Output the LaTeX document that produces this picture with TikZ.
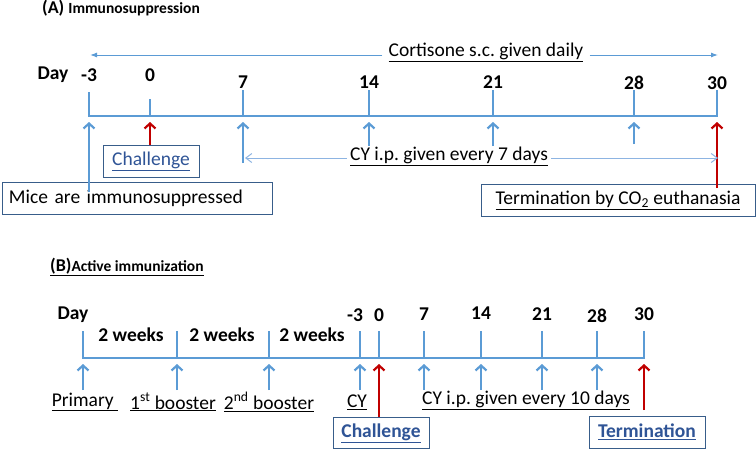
\documentclass[tikz,border=0pt]{standalone}
\usepackage{fontspec}
\setmainfont{Carlito}
\usetikzlibrary{arrows.meta}
\definecolor{axisblue}{HTML}{5B9BD5}
\definecolor{lineblue}{HTML}{8DB4E2}
\definecolor{darkred}{HTML}{C00000}
\definecolor{boxborder}{HTML}{385D8A}
\definecolor{chal}{HTML}{2F5496}
\frenchspacing
\begin{document}
\begin{tikzpicture}[x=1pt,y=-1pt,
  lbl/.style={font=\fontsize{19.5}{22}\selectfont\bfseries, inner sep=0pt},
  txt/.style={font=\fontsize{19.5}{22}\selectfont, inner sep=0pt},
  ax/.style={draw=axisblue, line width=2.2pt, line cap=rect},
  upb/.style={draw=axisblue, line width=2.2pt, -{Straight Barb[length=5pt,width=11pt]}},
  upr/.style={draw=darkred, line width=2.2pt, -{Straight Barb[length=5pt,width=11pt]}},
  thinb/.style={draw=axisblue, line width=1pt, -{Latex[length=7pt,width=5pt]}},
  openb/.style={draw=lineblue, line width=1pt, -{Straight Barb[length=6pt,width=9pt]}},
  boxs/.style={draw=boxborder, line width=1pt, fill=white, minimum height=32pt, inner sep=0pt,
    font=\fontsize{19.5}{22}\selectfont}
]
\useasboundingbox (0,0) rectangle (756,450);

% ---------------- Panel A ----------------
\node[anchor=west, inner sep=0pt] (titleA) at (42,8)
  {\bfseries\fontsize{18}{20}\selectfont (A) \fontsize{15.5}{17}\selectfont Immunosuppression};

\node[lbl] (dayA) at (53,75) {Day};
\foreach \x/\t/\ly/\tt [count=\i] in {89/-3/75/93, 150/0/75/100, 243/7/82/91, 369/14/82/91, 493/21/82/91, 634/28/83/91, 717/30/83/91} {
  \node[lbl] (dA\i) at (\x,\ly) {\t};
  \coordinate (tA\i) at (\x,\tt);
  \coordinate (bA\i) at (\x,116);
  \coordinate (hA\i) at (\x,122);
  \draw[ax] (tA\i) -- (bA\i);
}
\draw[ax] (bA1) -- (bA7);

% Cortisone
\node[txt, inner xsep=6pt] (cort) at (486,52) {\underline{Cortisone s.c. given daily}};
\coordinate (cL) at (90,55);
\coordinate (cR) at (718,55);
\draw[thinb] (cort.west |- cL) -- (cL);
\draw[thinb] (cort.east |- cR) -- (cR);

% boxes
\node[boxs, minimum width=270pt, text width=256pt, inner xsep=7pt, align=left] (mice) at (137,198)
  {Mice are immunosuppressed};
\node[boxs, minimum width=96pt] (chA) at (151,161) {\textcolor{chal}{\underline{Challenge}}};
\node[boxs, minimum width=274pt] (termA) at (618,200) {\underline{Termination by CO\textsubscript{2} euthanasia}};

% arrows below axis
\coordinate (sA1) at (89,192);
\coordinate (sA3) at (243,163);
\coordinate (sA4) at (369,146);
\coordinate (sA5) at (493,146);
\coordinate (sA6) at (634,144);
\coordinate (sA7) at (717,188);
\draw[upb] (sA1) -- (hA1);
\draw[upr] (chA.north -| hA2) -- (hA2);
\draw[upb] (sA3) -- (hA3);
\draw[upb] (sA4) -- (hA4);
\draw[upb] (sA5) -- (hA5);
\draw[upb] (sA6) -- (hA6);
\draw[upr] (sA7) -- (hA7);

% CY every 7 days
\node[txt, inner xsep=3pt] (cyA) at (449,156) {\underline{CY i.p. given every 7 days}};
\coordinate (cyAL) at (245,158);
\coordinate (cyAR) at (718,158);
\draw[openb] (cyA.west |- cyAL) -- (cyAL);
\draw[openb] (cyA.east |- cyAR) -- (cyAR);

% ---------------- Panel B ----------------
\node[anchor=west, inner sep=0pt] (titleB) at (50,267)
  {\bfseries\underline{{\fontsize{18}{20}\selectfont (B)}{\fontsize{15.5}{17}\selectfont Active immunization}}};

\node[lbl] (dayB) at (73,315) {Day};
\foreach \x [count=\i] in {83,177,269,360,379,424,481,542,597,644} {
  \coordinate (tB\i) at (\x,332);
  \coordinate (bB\i) at (\x,358);
  \coordinate (hB\i) at (\x,364);
  \coordinate (sB\i) at (\x,390);
  \draw[ax] (tB\i) -- (bB\i);
}
\draw[ax] (bB1) -- (bB10);

\node[lbl] (dB4) at (355,315) {-3};
\node[lbl] (dB5) at (379,315) {0};
\node[lbl] (dB6) at (424,314) {7};
\node[lbl] (dB7) at (481,313) {14};
\node[lbl] (dB8) at (542,314) {21};
\node[lbl] (dB9) at (597,316) {28};
\node[lbl] (dB10) at (644,314) {30};

\node[lbl] (w1) at (131,335) {2 weeks};
\node[lbl] (w2) at (222,335) {2 weeks};
\node[lbl] (w3) at (312,335) {2 weeks};

% labels below
\node[txt] (prim) at (85,402) {\underline{Primary\ }};
\node[txt] (b1) at (173,402) {\underline{1\textsuperscript{st} booster}};
\node[txt] (b2) at (269,402) {\underline{2\textsuperscript{nd} booster}};
\node[txt] (cyB) at (357,402) {\underline{CY}};
\node[txt] (cyB10) at (526,400) {\underline{CY i.p. given every 10 days}};

\node[boxs, minimum width=96pt, minimum height=31pt] (chB) at (381,433) {\bfseries\textcolor{chal}{\underline{Challenge}}};
\node[boxs, minimum width=116pt] (termB) at (647,432) {\bfseries\textcolor{chal}{\underline{Termination}}};

\foreach \i in {1,2,3,4,6,7,8,9} {
  \draw[upb] (sB\i) -- (hB\i);
}
\coordinate (sB10) at (644,410);
\draw[upr] (chB.north -| hB5) -- (hB5);
\draw[upr] (sB10) -- (hB10);
\end{tikzpicture}
\end{document}
